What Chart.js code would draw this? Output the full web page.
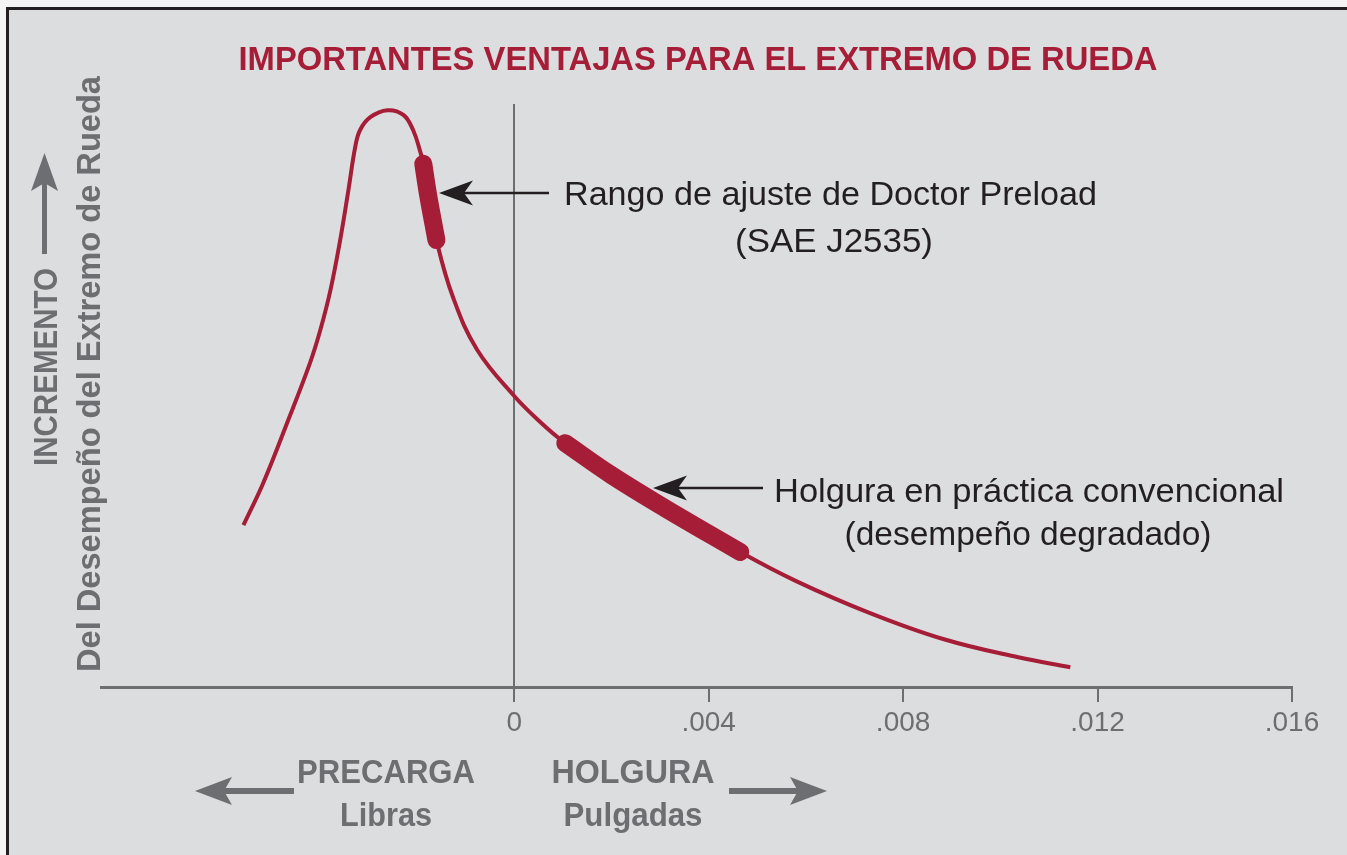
<!DOCTYPE html>
<html lang="es">
<head>
    <meta charset="UTF-8">
    <title>Importantes ventajas para el extremo de rueda</title>
    <script src="https://cdn.jsdelivr.net/npm/chart.js"></script>
    <style>
        html, body { margin: 0; padding: 0; background: #f4f4f4; overflow: hidden; }
        .frame {
            position: absolute; left: 6px; top: 7px; right: 0; bottom: 0;
            border-top: 3px solid #231f20; border-left: 3px solid #231f20;
            background: #dcdddf;
        }
        .chart-box { position: absolute; left: 0; top: 0; width: 1347px; height: 855px; }
    </style>
</head>
<body>
<div class="frame"></div>
<div class="chart-box"><canvas id="canvas"></canvas></div>

<script>
    // curve (x = holgura in inches, y = relative performance 0..100)
    const curveX = [-0.00557, -0.00516, -0.00467, -0.0042, -0.00399, -0.00378, -0.00358, -0.00341,
        -0.00327, -0.00317, -0.00296, -0.00261, -0.00228, -0.00208, -0.00193, -0.00187, -0.00177,
        -0.0016, -0.00126, -0.00076, 0, 0.00054, 0.00105, 0.002, 0.00313, 0.00465, 0.0058,
        0.00732, 0.00884, 0.01037, 0.01144];
    const curveY = [27.8, 35.1, 45.4, 55.7, 61.3, 68.2, 76.8, 85.4,
        92.8, 95.7, 97.9, 99.1, 98.3, 95.7, 91.9, 89.9, 84.5,
        76.8, 67.0, 57.9, 50.0, 45.5, 41.9, 36.4, 30.6, 23.2, 18.2,
        12.7, 8.2, 5.1, 3.4];

    // highlighted stretches of the curve
    const preloadRange = [-0.00187, -0.0016];
    const slackRange = [0.00105, 0.00465];

    const xTickValues = [0, 0.004, 0.008, 0.012, 0.016];
    const xTickLabels = ['0', '.004', '.008', '.012', '.016'];

    const RED = '#a51d37';
    const GRAY = '#6d6e71';
    const INK = '#231f20';

    const points = curveX.map((x, i) => ({x: x, y: curveY[i]}));
    const inRange = (r) => points.filter(p => p.x >= r[0] - 1e-9 && p.x <= r[1] + 1e-9);

    // text squeezed/stretched to the width it has in the original
    function fitText(ctx, text, x, y, width, font, color, align, rotate) {
        ctx.save();
        ctx.font = font;
        ctx.fillStyle = color;
        ctx.textBaseline = 'alphabetic';
        ctx.textAlign = align;
        const w = ctx.measureText(text).width;
        ctx.translate(x, y);
        if (rotate) ctx.rotate(-Math.PI / 2);
        ctx.scale(width / w, 1);
        ctx.fillText(text, 0, 0);
        ctx.restore();
    }

    function arrow(ctx, tipX, tipY, tailX, tailY, len, half, notch, lw, color) {
        const dx = tipX - tailX, dy = tipY - tailY;
        const d = Math.hypot(dx, dy);
        const ux = dx / d, uy = dy / d;
        const px = -uy, py = ux;
        ctx.save();
        ctx.strokeStyle = color;
        ctx.fillStyle = color;
        ctx.lineWidth = lw;
        ctx.beginPath();
        ctx.moveTo(tailX, tailY);
        ctx.lineTo(tipX - ux * notch, tipY - uy * notch);
        ctx.stroke();
        ctx.beginPath();
        ctx.moveTo(tipX, tipY);
        ctx.lineTo(tipX - ux * len + px * half, tipY - uy * len + py * half);
        ctx.lineTo(tipX - ux * notch, tipY - uy * notch);
        ctx.lineTo(tipX - ux * len - px * half, tipY - uy * len - py * half);
        ctx.closePath();
        ctx.fill();
        ctx.restore();
    }

    const decorations = {
        id: 'decorations',
        afterDraw(chart) {
            const ctx = chart.ctx;
            const bold = 'bold 34px "Liberation Sans", Arial, sans-serif';
            const reg = '34px "Liberation Sans", Arial, sans-serif';

            fitText(ctx, 'IMPORTANTES VENTAJAS PARA EL EXTREMO DE RUEDA', 698, 70, 919, bold, RED, 'center');

            // vertical axis caption
            fitText(ctx, 'INCREMENTO', 57, 367, 198, bold, GRAY, 'center', true);
            arrow(ctx, 44.5, 153, 44.5, 254, 38, 13.5, 30, 5, GRAY);
            fitText(ctx, 'Del Desempeño del Extremo de Rueda', 100, 374, 596, bold, GRAY, 'center', true);

            // bottom captions
            fitText(ctx, 'PRECARGA', 386, 783, 178, bold, GRAY, 'center');
            fitText(ctx, 'Libras', 386, 826, 92, bold, GRAY, 'center');
            fitText(ctx, 'HOLGURA', 633, 783, 163, bold, GRAY, 'center');
            fitText(ctx, 'Pulgadas', 633, 826, 139, bold, GRAY, 'center');
            arrow(ctx, 195, 791, 294, 791, 37, 14, 29, 6, GRAY);
            arrow(ctx, 827, 791, 729, 791, 37, 14, 29, 6, GRAY);

            // callouts
            arrow(ctx, 439, 193, 549, 193, 34, 12.5, 25, 2.5, INK);
            fitText(ctx, 'Rango de ajuste de Doctor Preload', 564, 205, 533, reg, INK, 'left');
            fitText(ctx, '(SAE J2535)', 834, 252, 198, reg, INK, 'center');
            arrow(ctx, 653, 488, 763, 488, 34, 12.5, 25, 2.5, INK);
            fitText(ctx, 'Holgura en práctica convencional', 774, 502, 510, reg, INK, 'left');
            fitText(ctx, '(desempeño degradado)', 1028, 545, 367, reg, INK, 'center');
        }
    };

    const lineStyle = {borderColor: RED, pointRadius: 0, tension: 0.4};

    new Chart(document.getElementById('canvas'), {
        type: 'line',
        data: {
            datasets: [
                Object.assign({data: points, borderWidth: 4, borderCapStyle: 'butt'}, lineStyle),
                Object.assign({data: inRange(preloadRange), borderWidth: 18, borderCapStyle: 'round'}, lineStyle),
                Object.assign({data: inRange(slackRange), borderWidth: 18, borderCapStyle: 'round'}, lineStyle)
            ]
        },
        options: {
            responsive: true,
            maintainAspectRatio: false,
            animation: false,
            layout: {padding: {top: 105, left: 101, right: 55, bottom: 0}},
            plugins: {
                legend: {display: false},
                tooltip: {enabled: false},
                title: {display: false}
            },
            scales: {
                x: {
                    type: 'linear',
                    min: -0.0085,
                    max: 0.016,
                    afterBuildTicks: (axis) => {
                        axis.ticks = xTickValues.map(v => ({value: v}));
                    },
                    afterFit: (axis) => { axis.height = 168; },
                    grid: {
                        drawOnChartArea: false,
                        drawTicks: true,
                        tickLength: 15,
                        color: GRAY,
                        lineWidth: 2
                    },
                    border: {display: true, color: GRAY, width: 3},
                    ticks: {
                        autoSkip: false,
                        maxRotation: 0,
                        padding: 4,
                        color: GRAY,
                        font: {family: '"Liberation Sans", Arial, sans-serif', size: 28},
                        callback: (v) => xTickLabels[xTickValues.indexOf(v)]
                    }
                },
                y: {
                    type: 'linear',
                    min: 0,
                    max: 100,
                    position: {x: 0},
                    ticks: {display: false},
                    grid: {drawOnChartArea: false, drawTicks: false},
                    border: {display: true, color: GRAY, width: 2}
                }
            }
        },
        plugins: [decorations]
    });
</script>
</body>
</html>
